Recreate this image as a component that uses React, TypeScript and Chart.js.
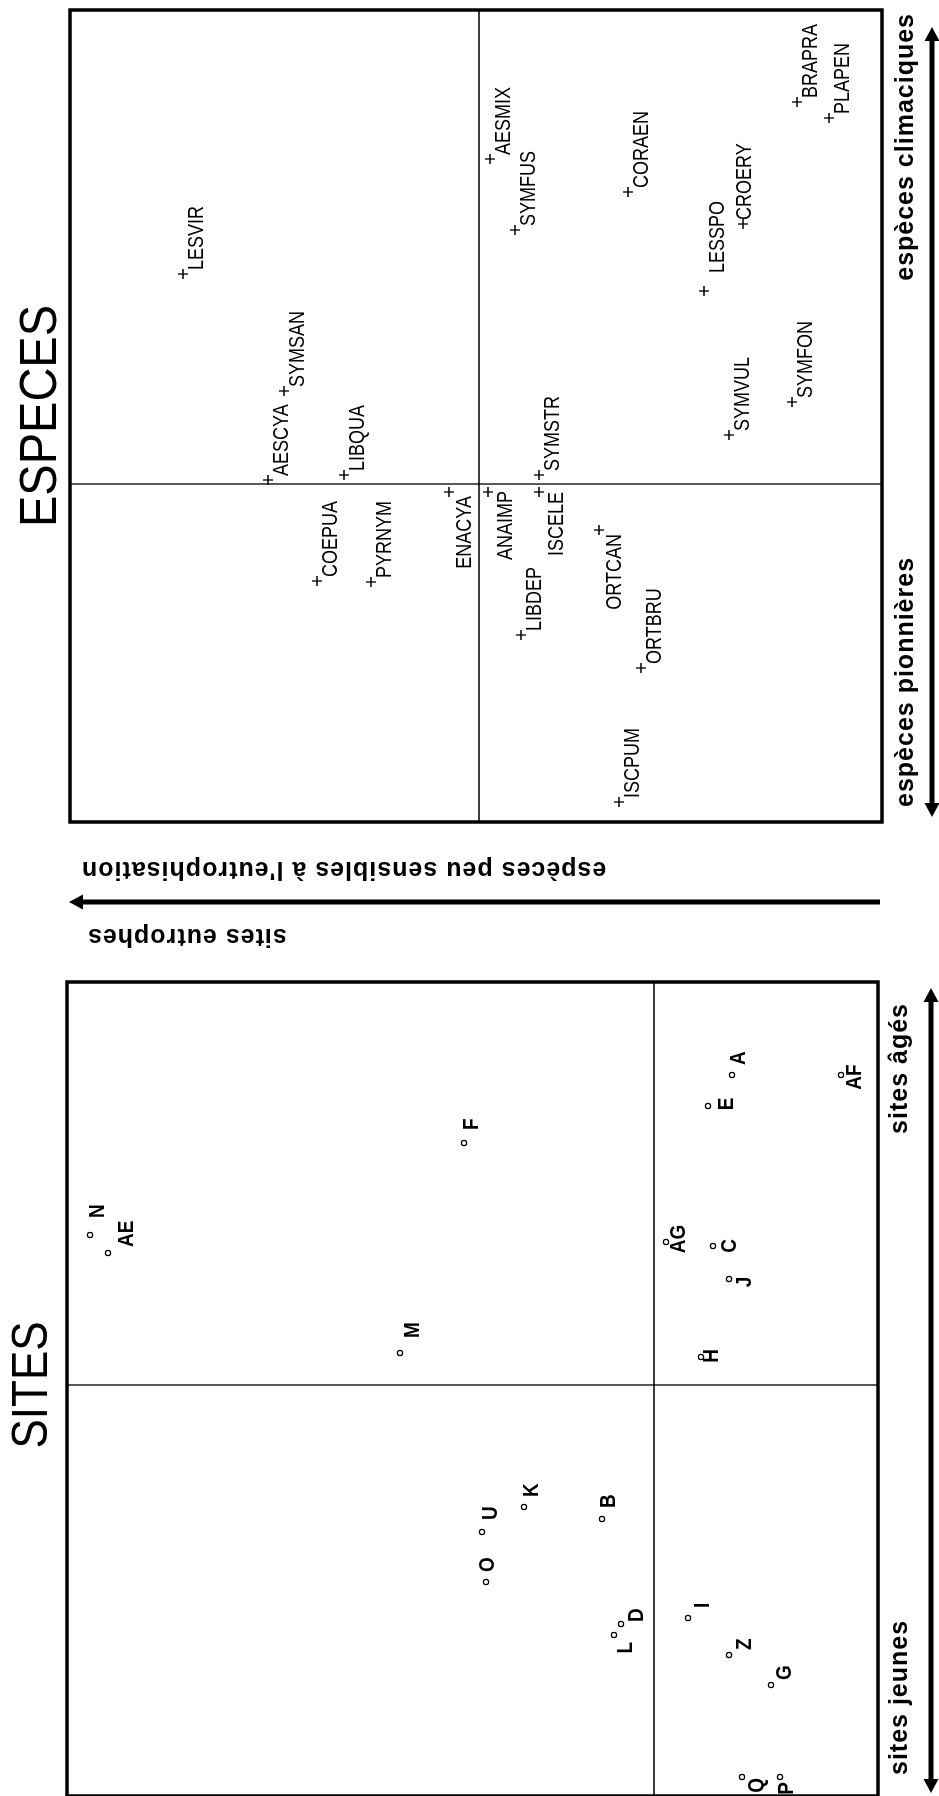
import React, { useEffect, useRef } from 'react';
import { Chart, registerables } from 'chart.js';

Chart.register(...registerables);

// ---------- DATA (correspondence analysis scores) ----------
const SPECIES_NAMES = ['LESVIR', 'AESCYA', 'SYMSAN', 'LIBQUA', 'SYMSTR', 'SYMVUL', 'SYMFON', 'LESSPO', 'CROERY', 'CORAEN', 'SYMFUS', 'AESMIX', 'BRAPRA', 'PLAPEN', 'COEPUA', 'PYRNYM', 'ENACYA', 'ANAIMP', 'LIBDEP', 'ISCELE', 'ORTCAN', 'ORTBRU', 'ISCPUM'];
const SPECIES_AXIS1 = [1.05, 0.02, 0.465, 0.045, 0.045, 0.245, 0.41, 0.965, 1.3, 1.46, 1.27, 1.625, 1.91, 1.83, -0.485, -0.49, -0.04, -0.04, -0.755, -0.04, -0.23, -0.92, -1.59];
const SPECIES_AXIS2 = [1.48, 1.055, 0.975, 0.675, -0.3, -1.25, -1.565, -1.125, -1.32, -0.745, -0.18, -0.055, -1.59, -1.75, 0.81, 0.54, 0.15, -0.045, -0.21, -0.3, -0.6, -0.81, -0.7];

const SITE_NAMES = ['N', 'AE', 'F', 'M', 'A', 'E', 'AF', 'AG', 'C', 'J', 'H', 'O', 'U', 'K', 'B', 'L', 'D', 'I', 'Z', 'G', 'Q', 'P'];
const SITE_AXIS1 = [0.75, 0.66, 1.21, 0.16, 1.55, 1.395, 1.55, 0.715, 0.695, 0.53, 0.14, -0.985, -0.735, -0.61, -0.67, -1.25, -1.195, -1.165, -1.35, -1.5, -1.96, -1.96];
const SITE_AXIS2 = [2.82, 2.73, 0.95, 1.27, -0.39, -0.27, -0.935, -0.06, -0.295, -0.375, -0.235, 0.84, 0.86, 0.65, 0.26, 0.2, 0.165, -0.17, -0.375, -0.585, -0.44, -0.63];

const SPECIES_TITLE = 'ESPECES';
const SITES_TITLE = 'SITES';
const SPECIES_LEFT_LABEL = 'espèces pionnières';
const SPECIES_RIGHT_LABEL = 'espèces climaciques';
const SITES_LEFT_LABEL = 'sites jeunes';
const SITES_RIGHT_LABEL = 'sites âgés';
const VERTICAL_SPECIES_LABEL = "espèces peu sensibles à l'eutrophisation";
const VERTICAL_SITES_LABEL = 'sites eutrophes';

// ---------- STYLE ----------
const FONT = '"Liberation Sans", Arial, Helvetica, sans-serif';
const SPECIES_LEFT_SIDE = ['ENACYA', 'ANAIMP', 'ISCELE', 'ORTCAN'];
const SPECIES_SPECIAL: Record<string, [number, number]> = { LESSPO: [18, 20], CROERY: [4, 8], ANAIMP: [1, 24], ISCELE: [0, 24] };
// [dx, dy(baseline), align]
const SITE_LABEL_POS: Record<string, [number, number, CanvasTextAlign]> = {
  N: [17, 14, 'left'], AE: [6, 25, 'left'], F: [13, 14, 'left'], M: [15, 19, 'left'], A: [10, 13, 'left'],
  E: [2, 25, 'center'], AF: [-2, 20, 'center'], AG: [3, 19, 'center'], C: [0, 23, 'center'], J: [-3, 22, 'center'],
  H: [1, 17, 'center'], O: [10, 8, 'left'], U: [12, 15, 'left'], K: [10, 14, 'left'], B: [11, 13, 'left'],
  L: [-7, 18, 'right'], D: [2, 22, 'left'], I: [10, 21, 'left'], Z: [5, 22, 'left'], G: [5, 20, 'left'],
  Q: [-1, 21, 'right'], P: [-5, 13, 'right'],
};

type TextOpts = { font: string; align?: CanvasTextAlign; sy?: number; rot?: number; spacing?: number };

function drawText(ctx: CanvasRenderingContext2D, text: string, x: number, y: number, o: TextOpts) {
  ctx.save();
  ctx.translate(x, y);
  if (o.rot) ctx.rotate(o.rot);
  if (o.sy) ctx.scale(1, o.sy);
  ctx.font = o.font;
  (ctx as any).letterSpacing = `${o.spacing ?? 0}px`;
  ctx.textAlign = o.align ?? 'left';
  ctx.textBaseline = 'alphabetic';
  ctx.fillStyle = '#000';
  ctx.fillText(text, 0, 0);
  ctx.restore();
}

function drawArrow(ctx: CanvasRenderingContext2D, x1: number, y1: number, x2: number, y2: number, both: boolean) {
  const len = Math.hypot(x2 - x1, y2 - y1);
  const ux = (x2 - x1) / len;
  const uy = (y2 - y1) / len;
  const hl = 14;
  const hw = 7.5;
  ctx.save();
  ctx.strokeStyle = '#000';
  ctx.fillStyle = '#000';
  ctx.lineWidth = 5;
  ctx.beginPath();
  ctx.moveTo(both ? x1 + ux * hl * 0.8 : x1, both ? y1 + uy * hl * 0.8 : y1);
  ctx.lineTo(x2 - ux * hl * 0.8, y2 - uy * hl * 0.8);
  ctx.stroke();
  const head = (px: number, py: number, dx: number, dy: number) => {
    ctx.beginPath();
    ctx.moveTo(px, py);
    ctx.lineTo(px - dx * hl - dy * hw, py - dy * hl + dx * hw);
    ctx.lineTo(px - dx * hl + dy * hw, py - dy * hl - dx * hw);
    ctx.closePath();
    ctx.fill();
  };
  head(x2, y2, ux, uy);
  if (both) head(x1, y1, -ux, -uy);
  ctx.restore();
}

const framePlugin = {
  id: 'panelFrame',
  beforeDatasetsDraw(chart: any) {
    const { ctx, chartArea: a, scales } = chart;
    const x0 = scales.x.getPixelForValue(0);
    const y0 = scales.y.getPixelForValue(0);
    ctx.save();
    ctx.strokeStyle = '#000';
    ctx.lineWidth = 1.3;
    ctx.beginPath();
    ctx.moveTo(x0, a.top);
    ctx.lineTo(x0, a.bottom);
    ctx.moveTo(a.left, y0);
    ctx.lineTo(a.right, y0);
    ctx.stroke();
    ctx.lineWidth = 3.5;
    ctx.strokeRect(a.left, a.top, a.right - a.left, a.bottom - a.top);
    ctx.restore();
  },
};

const speciesLabelPlugin = {
  id: 'speciesLabels',
  afterDatasetsDraw(chart: any) {
    const ctx = chart.ctx;
    const meta = chart.getDatasetMeta(0);
    meta.data.forEach((el: any, i: number) => {
      const name = SPECIES_NAMES[i];
      const left = SPECIES_LEFT_SIDE.includes(name);
      const sp = SPECIES_SPECIAL[name];
      const dx = sp ? sp[0] : left ? -4 : 4;
      const dy = sp ? sp[1] : left ? 22 : 20;
      drawText(ctx, name, el.x + dx, el.y + dy, {
        font: `18px ${FONT}`,
        align: left ? 'right' : 'left',
        sy: 1.18,
      });
    });
  },
};

const siteLabelPlugin = {
  id: 'siteLabels',
  afterDatasetsDraw(chart: any) {
    const ctx = chart.ctx;
    const meta = chart.getDatasetMeta(0);
    meta.data.forEach((el: any, i: number) => {
      const name = SITE_NAMES[i];
      const p = SITE_LABEL_POS[name] ?? [9, 14, 'left'];
      drawText(ctx, name, el.x + p[0], el.y + p[1], { font: `bold 19px ${FONT}`, align: p[2], sy: 1.2 });
    });
  },
};

const speciesDecor = {
  id: 'speciesDecor',
  afterDraw(chart: any) {
    const { ctx, chartArea: a } = chart;
    const cx = (a.left + a.right) / 2;
    drawText(ctx, SPECIES_TITLE, cx, 56, { font: `47px ${FONT}`, align: 'center', sy: 1.12 });
    drawArrow(ctx, a.left + 5, 932, a.right - 17, 932, true);
    const bold = `bold 25px ${FONT}`;
    drawText(ctx, SPECIES_RIGHT_LABEL, a.right - 3, 913, { font: bold, align: 'right', spacing: 1 });
    drawText(ctx, SPECIES_LEFT_LABEL, a.left + 15, 913, { font: bold, align: 'left', spacing: 1 });
    // vertical arrow and labels between the two panels
    const ax = a.left - 80;
    drawArrow(ctx, ax, a.bottom - 2, ax, 69, false);
    drawText(ctx, VERTICAL_SPECIES_LABEL, ax + 40, 81, { font: bold, align: 'right', rot: -Math.PI / 2, spacing: 1 });
    drawText(ctx, VERTICAL_SITES_LABEL, ax - 27, 87, { font: bold, align: 'right', rot: -Math.PI / 2, spacing: 1 });
  },
};

const sitesDecor = {
  id: 'sitesDecor',
  afterDraw(chart: any) {
    const { ctx, chartArea: a } = chart;
    const cx = (a.left + a.right) / 2;
    drawText(ctx, SITES_TITLE, cx + 4, 47, { font: `44px ${FONT}`, align: 'center', sy: 1.12 });
    drawArrow(ctx, a.left + 3, 931, a.right - 6, 931, true);
    const bold = `bold 25px ${FONT}`;
    drawText(ctx, SITES_LEFT_LABEL, a.left + 21, 907, { font: bold, align: 'left', spacing: 1 });
    drawText(ctx, SITES_RIGHT_LABEL, a.right - 21, 907, { font: bold, align: 'right', spacing: 1 });
  },
};

function baseOptions(padding: any, xr: [number, number], yr: [number, number]) {
  return {
    responsive: false,
    animation: false as const,
    events: [] as any[],
    layout: { padding, autoPadding: false },
    plugins: { legend: { display: false }, tooltip: { enabled: false }, title: { display: false } },
    scales: {
      x: { type: 'linear' as const, min: xr[0], max: xr[1], display: false },
      y: { type: 'linear' as const, min: yr[0], max: yr[1], display: false },
    },
  };
}

export default function App() {
  const sitesRef = useRef<HTMLCanvasElement>(null);
  const speciesRef = useRef<HTMLCanvasElement>(null);

  useEffect(() => {
    const sitesChart = new Chart(sitesRef.current as HTMLCanvasElement, {
      type: 'scatter',
      data: {
        datasets: [
          {
            data: SITE_NAMES.map((_, i) => ({ x: SITE_AXIS1[i], y: SITE_AXIS2[i] })),
            pointStyle: 'circle',
            pointRadius: 2.6,
            pointBorderWidth: 1.2,
            pointBackgroundColor: '#fff',
            pointBorderColor: '#000',
            borderColor: '#000',
            backgroundColor: '#fff',
          },
        ],
      },
      options: baseOptions({ left: 3, right: 26, top: 67, bottom: 61 }, [-2.055, 2.015], [-1.12, 2.935]) as any,
      plugins: [framePlugin, siteLabelPlugin, sitesDecor],
    });

    const speciesChart = new Chart(speciesRef.current as HTMLCanvasElement, {
      type: 'scatter',
      data: {
        datasets: [
          {
            data: SPECIES_NAMES.map((_, i) => ({ x: SPECIES_AXIS1[i], y: SPECIES_AXIS2[i] })),
            pointStyle: 'cross',
            pointRadius: 5,
            pointBorderWidth: 1.3,
            pointBorderColor: '#000',
            borderColor: '#000',
          },
        ],
      },
      options: baseOptions({ left: 134, right: 10, top: 70, bottom: 57 }, [-1.69, 2.37], [-2.015, 2.045]) as any,
      plugins: [framePlugin, speciesLabelPlugin, speciesDecor],
    });

    return () => {
      sitesChart.destroy();
      speciesChart.destroy();
    };
  }, []);

  return (
    <div style={{ position: 'absolute', left: 0, top: 0, width: 939, height: 1796, overflow: 'hidden', background: '#fff' }}>
      <div
        style={{
          position: 'absolute',
          left: 0,
          top: 0,
          width: 1796,
          height: 939,
          transformOrigin: '0 0',
          transform: 'translate(0px, 1796px) rotate(-90deg)',
          background: '#fff',
        }}
      >
        <canvas ref={sitesRef} width={843} height={939} style={{ position: 'absolute', left: -3, top: 0 }} />
        <canvas ref={speciesRef} width={956} height={939} style={{ position: 'absolute', left: 840, top: 0 }} />
      </div>
    </div>
  );
}
